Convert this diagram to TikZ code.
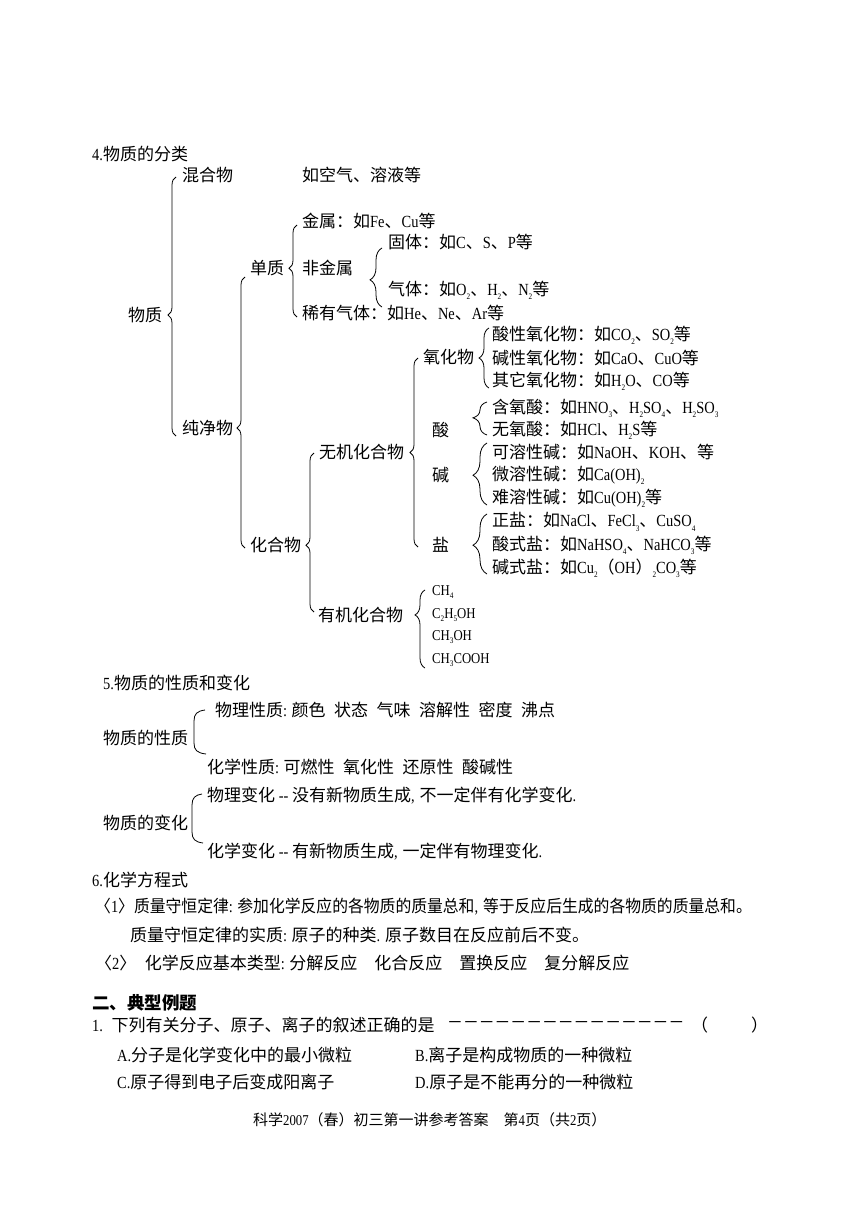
\documentclass[tikz,border=0pt]{standalone}
\usepackage{fontspec}
\usetikzlibrary{decorations.pathreplacing}

\newfontfamily\cjk{Noto Sans CJK SC}
\newfontfamily\cjkn{Noto Sans CJK SC}[FakeStretch=0.93]
\newfontfamily\lser{Liberation Serif}[FakeStretch=0.85,Scale=1.0]
\newcommand\la[1]{{\lser #1}}
\newcommand\lsub[1]{\raisebox{-0.25em}{\fontsize{8.5}{8.5}\selectfont #1}}
\newcommand\hw[1]{\makebox[0.5em][l]{\lser #1}}

\tikzset{
  txt/.style={anchor=west, inner sep=0pt, font=\cjk\fontsize{17}{20}\selectfont},
  fml/.style={anchor=west, inner sep=0pt, font=\lser\fontsize{15}{18}\selectfont},
  brc/.style 2 args={decorate, decoration={brace, amplitude=#1, aspect=#2}, line width=0.8pt},
  brk/.style={line width=0.8pt}
}

\begin{document}
\begin{tikzpicture}[x=1pt,y=-1pt]
\useasboundingbox[fill=white] (0,0) rectangle (860,1215);

\node[txt] (title4) at (92,154) {\la{4.}物质的分类};
\node[txt] (mixture) at (182,175) {混合物};
\node[txt] (mixeg) at (302,175) {如空气、溶液等};
\node[txt] (matter) at (128,315) {物质};
\node[txt] (pure) at (182,428) {纯净物};
\node[txt] (element) at (250,268) {单质};
\node[txt] (compound) at (250,545) {化合物};
\node[txt] (metal) at (302,221) {金属：如\la{Fe}、\la{Cu}等};
\node[txt] (nonmetal) at (302,268) {非金属};
\node[txt] (noble) at (302,313) {稀有气体：如\la{He}、\la{Ne}、\la{Ar}等};
\node[txt] (solid) at (388,242) {固体：如\la{C}、\la{S}、\la{P}等};
\node[txt] (gas) at (388,290) {气体：如\la{O\lsub{2}}、\la{H\lsub{2}}、\la{N\lsub{2}}等};
\node[txt] (inorganic) at (319,452) {无机化合物};
\node[txt] (organic) at (318,615) {有机化合物};
\node[txt] (oxide) at (423,357) {氧化物};
\node[txt] (acid) at (432,430) {酸};
\node[txt] (base) at (432,475) {碱};
\node[txt] (salt) at (432,545) {盐};
\node[txt] (acidox) at (492,335) {酸性氧化物：如\la{CO\lsub{2}}、\la{SO\lsub{2}}等};
\node[txt] (basicox) at (492,358) {碱性氧化物：如\la{CaO}、\la{CuO}等};
\node[txt] (otherox) at (492,381) {其它氧化物：如\la{H\lsub{2}O}、\la{CO}等};
\node[txt] (oxyacid) at (492,408) {含氧酸：如\la{HNO\lsub{3}}、\la{H\lsub{2}SO\lsub{4}}、\la{H\lsub{2}SO\lsub{3}}};
\node[txt] (hydracid) at (492,430) {无氧酸：如\la{HCl}、\la{H\lsub{2}S}等};
\node[txt] (solbase) at (492,452) {可溶性碱：如\la{NaOH}、\la{KOH}、等};
\node[txt] (slightbase) at (492,475) {微溶性碱：如\la{Ca(OH)\lsub{2}}};
\node[txt] (insolbase) at (492,498) {难溶性碱：如\la{Cu(OH)\lsub{2}}等};
\node[txt] (normalsalt) at (492,522) {正盐：如\la{NaCl}、\la{FeCl\lsub{3}}、\la{CuSO\lsub{4}}};
\node[txt] (acidsalt) at (492,545) {酸式盐：如\la{NaHSO\lsub{4}}、\la{NaHCO\lsub{3}}等};
\node[txt] (basicsalt) at (492,568) {碱式盐：如\la{Cu\lsub{2}}（\la{OH}）\la{\lsub{2}CO\lsub{3}}等};
\node[fml] (methane) at (432,592) {CH\lsub{4}};
\node[fml] (ethanol) at (432,615) {C\lsub{2}H\lsub{5}OH};
\node[fml] (methanol) at (432,637) {CH\lsub{3}OH};
\node[fml] (acetic) at (432,660) {CH\lsub{3}COOH};

\draw[brc={8pt}{0.467}] (176,436) -- (176,177);
\draw[brc={8pt}{0.443}] (245,548) -- (245,277);
\draw[brc={8pt}{0.53}] (297,317) -- (297,225);
\draw[brc={12pt}{0.46}] (382,307) -- (382,248);
\draw[brc={8pt}{0.5}] (418,547) -- (418,358);
\draw[brc={8pt}{0.42}] (314,612) -- (314,453);
\draw[brc={10pt}{0.5}] (489,388) -- (489,328);
\draw[brc={14pt}{0.52}] (487,435) -- (487,402);
\draw[brc={14pt}{0.48}] (487,505) -- (487,443);
\draw[brc={14pt}{0.48}] (487,574) -- (487,514);
\draw[brc={10pt}{0.68}] (425,668) -- (425,590);

\node[txt] (title5) at (103,683) {\la{5.}物质的性质和变化};
\node[txt] (physprop) at (215,710) {物理性质\hw{:}颜色\enspace 状态\enspace 气味\enspace 溶解性\enspace 密度\enspace 沸点};
\node[txt] (props) at (103,738) {物质的性质};
\node[txt] (chemprop) at (207,767) {化学性质\hw{:}可燃性\enspace 氧化性\enspace 还原性\enspace 酸碱性};
\node[txt] (physchg) at (207,796) {物理变化\makebox[1em][c]{\lser -{}-}没有新物质生成\hw{,}不一定伴有化学变化\hw{.}};
\node[txt] (changes) at (103,823) {物质的变化};
\node[txt] (chemchg) at (207,852) {化学变化\makebox[1em][c]{\lser -{}-}有新物质生成\hw{,}一定伴有物理变化\hw{.}};
\draw[brk] (205,710) .. controls (197,711) and (194,714) .. (194,721) -- (194,743) .. controls (194,750) and (197,753) .. (206,754);
\draw[brk] (202,794) .. controls (195,795) and (192,798) .. (192,805) -- (192,832) .. controls (192,839) and (195,842) .. (203,843);

\node[txt] (title6) at (92,880) {\la{6.}化学方程式};
\node[txt, font=\cjkn\fontsize{17}{20}\selectfont] (law) at (95,907) {〈\la{1}〉质量守恒定律\hw{:}参加化学反应的各物质的质量总和\hw{,}等于反应后生成的各物质的质量总和。};
\node[txt] (essence) at (130,935) {质量守恒定律的实质\hw{:}原子的种类\hw{.}原子数目在反应前后不变。};
\node[txt] (types) at (95,963) {〈\la{2}〉\enspace 化学反应基本类型\hw{:}分解反应　化合反应　置换反应　复分解反应};

\node[txt, font=\cjk\bfseries\fontsize{17.5}{20}\selectfont] (title2) at (92,1003) {二、典型例题};
\node[txt] (q1) at (92,1025) {\la{1.}\enspace 下列有关分子、原子、离子的叙述正确的是};
\node[txt, font=\cjkn\fontsize{17}{20}\selectfont] (dashes) at (447,1025) {－－－－－－－－－－－－－－－};
\node[txt] (paren) at (691,1025) {（\hspace{43pt}）};
\node[txt] (optA) at (117,1055) {\la{A.}分子是化学变化中的最小微粒};
\node[txt] (optB) at (415,1055) {\la{B.}离子是构成物质的一种微粒};
\node[txt] (optC) at (117,1082) {\la{C.}原子得到电子后变成阳离子};
\node[txt] (optD) at (415,1082) {\la{D.}原子是不能再分的一种微粒};
\node[txt, font=\cjk\fontsize{15}{17}\selectfont] (footer) at (253,1120) {科学\la{2007}（春）初三第一讲参考答案　第\la{4}页（共\la{2}页）};
\end{tikzpicture}
\end{document}
